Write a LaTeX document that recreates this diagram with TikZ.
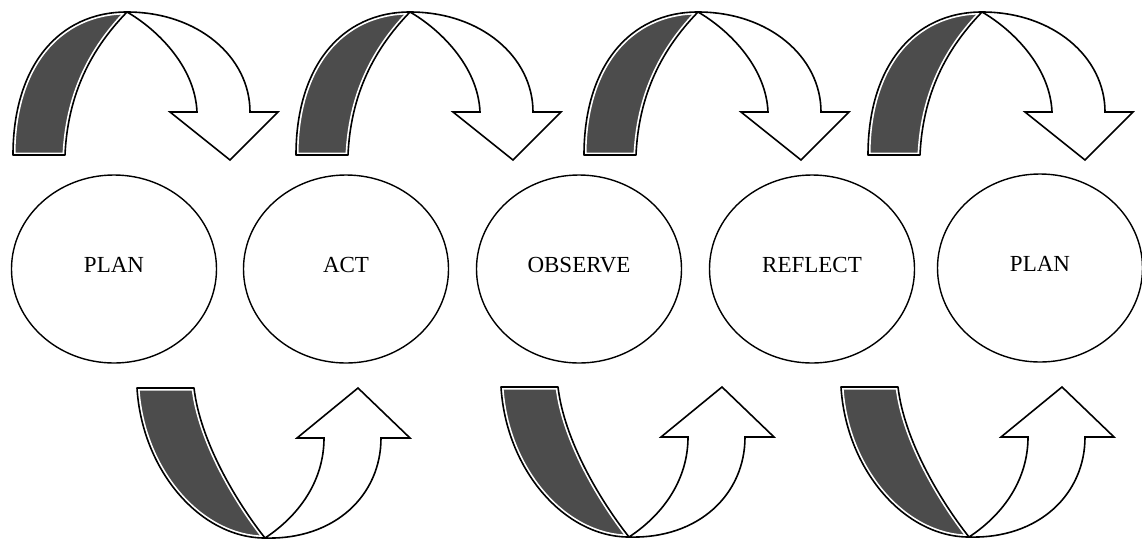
\documentclass[tikz,border=0pt]{standalone}
\usepackage{fontspec}
\setmainfont{Liberation Serif}
\usetikzlibrary{shapes.geometric}
\newcommand{\stagetext}[1]{\raisebox{9pt}{#1}}
\tikzset{
  stage/.style={ellipse, draw=black, line width=1.4pt, minimum width=205pt, minimum height=188pt, inner sep=0pt, font=\fontsize{23}{27}\selectfont},
  backband/.style={fill=black!70, line join=round,
     postaction={draw=white, line width=5pt},
     postaction={draw=black, line width=1.6pt}},
  frontband/.style={fill=white, draw=black, line width=1.6pt, line join=miter},
  toparrow/.pic={
    \path[backband] (0,0) .. controls (0,-88) and (45,-143) .. (114,-143)
        .. controls (84,-112) and (55,-68) .. (52,0) -- cycle;
    \path[frontband] (114,-143) .. controls (185,-143) and (237,-98) .. (237,-43)
        -- (265,-43) -- (217,5) -- (157,-43) -- (184,-43)
        .. controls (182,-90) and (142,-127) .. (114,-143) -- cycle;
  },
  botarrow/.pic={
    \path[backband] (0,0) .. controls (5,82) and (63,150) .. (128,150)
        .. controls (98,112) and (63,52) .. (57,0) -- cycle;
    \path[frontband] (128,150) .. controls (198,152) and (244,107) .. (244,50)
        -- (273,50) -- (221,0) -- (160,50) -- (187,50)
        .. controls (187,92) and (163,127) .. (128,150) -- cycle;
  }
}
\begin{document}
\begin{tikzpicture}[x=1pt,y=-1pt]
\useasboundingbox (0,0) rectangle (1142,542);
% stages
\node[stage] (plan1) at (114,269) {\stagetext{PLAN}};
\node[stage] (act) at (346,269) {\stagetext{ACT}};
\node[stage] (observe) at (579,269) {\stagetext{OBSERVE}};
\node[stage] (reflect) at (812,269) {\stagetext{REFLECT}};
\node[stage] (plan2) at (1040,268) {\stagetext{PLAN}};
% top arrows
\pic (t1) at (13,155) {toparrow};
\pic (t2) at (296,155) {toparrow};
\pic (t3) at (584,155) {toparrow};
\pic (t4) at (868,155) {toparrow};
% bottom arrows
\pic (b1) at (137,388) {botarrow};
\pic (b2) at (501,387) {botarrow};
\pic (b3) at (841,387) {botarrow};
\end{tikzpicture}
\end{document}
